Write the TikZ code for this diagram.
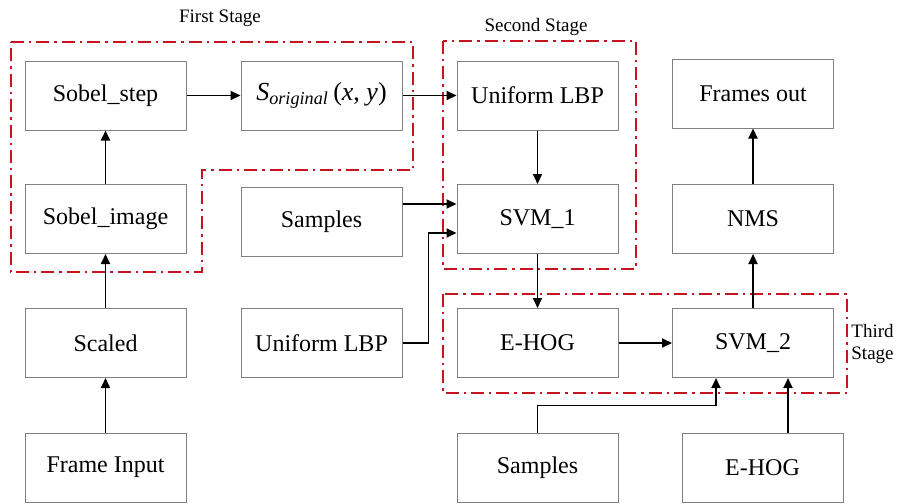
\documentclass[tikz,border=0pt]{standalone}
\usepackage{fontspec}
\setmainfont{Liberation Serif}
\usetikzlibrary {arrows.meta}

\begin{document}
\begin{tikzpicture}[x=0.5pt, y=-0.5pt, line cap=butt,
    box/.style={draw=black!50, line width=0.5pt, minimum width=80.5pt, minimum height=34.5pt, inner sep=0pt, font=\fontsize{12}{14}\selectfont},
    arr/.style={line width=0.95pt, -{Triangle[length=5pt, width=4.5pt]}},
    stage/.style={draw={rgb,255:red,200;green,20;blue,30}, line width=0.8pt, dash pattern=on 6.5pt off 2.5pt on 1.2pt off 2.5pt},
    stagelabel/.style={font=\fontsize{9.5}{11}\selectfont, align=left, inner sep=0pt}]

    \useasboundingbox (0,0) rectangle (897,503);

    % first column
    \node[box] (sobelstep) at (105.5,95.5) {Sobel\_step};
    \node[box] (sobelimg) at (105.5,219) {Sobel\_image};
    \node[box] (scaled) at (105.5,343) {Scaled};
    \node[box] (input) at (105.5,467.5) {Frame Input};

    % second column
    \node[box] (sorig) at (321.5,95.5) {\fontsize{13}{14}\selectfont\textit{S}\textsubscript{\textit{original}}\,(\textit{x}, \textit{y})};
    \node[box] (samplesA) at (321.5,221.5) {Samples};
    \node[box] (lbpB) at (321.5,343) {Uniform LBP};

    % third column
    \node[box] (lbpA) at (537.5,95.5) {Uniform LBP};
    \node[box] (svmA) at (537.5,219) {SVM\_1};
    \node[box] (ehogA) at (537.5,343) {E-HOG};
    \node[box] (samplesB) at (537.5,467.5) {Samples};

    % fourth column
    \node[box] (frames) at (753,93.5) {Frames out};
    \node[box] (nms) at (753,219) {NMS};
    \node[box] (svmB) at (753,343) {SVM\_2};
    \node[box] (ehogB) at (762.5,467.5) {E-HOG};

    % stages
    \draw[stage] (11,42) -- (413,42) -- (413,170) -- (202,170) -- (202,272) -- (11,272) -- cycle;
    \draw[stage] (443,41) rectangle (636,269);
    \draw[stage] (443,294) rectangle (847,393);
    \node[stagelabel] (first) at (220,18) {First Stage};
    \node[stagelabel] (second) at (536,27) {Second Stage};
    \node[stagelabel, anchor=west] (third) at (851,344) {Third\\Stage};

    % connectors
    \draw[arr] (input) -- (scaled);
    \draw[arr] (scaled) -- (sobelimg);
    \draw[arr] (sobelimg) -- (sobelstep);
    \draw[arr] (sobelstep) -- (sorig);
    \draw[arr] (sorig) -- (lbpA);
    \draw[arr] (lbpA) -- (svmA);
    \draw[arr] ([yshift=8.75pt]samplesA.east) -- ([yshift=7.5pt]svmA.west);
    \draw[arr] (lbpB.east) -- ++(26,0) |- ([yshift=-7pt]svmA.west);
    \draw[arr] (svmA) -- (ehogA);
    \draw[arr] (ehogA) -- (svmB);
    \draw[arr] (samplesB.north) -- ++(0,-27) -| ([xshift=-18.5pt]svmB.south);
    \draw[arr] ([xshift=12.75pt]ehogB.north) -- ([xshift=17.5pt]svmB.south);
    \draw[arr] (svmB) -- (nms);
    \draw[arr] (nms) -- (frames);

\end{tikzpicture}
\end{document}
